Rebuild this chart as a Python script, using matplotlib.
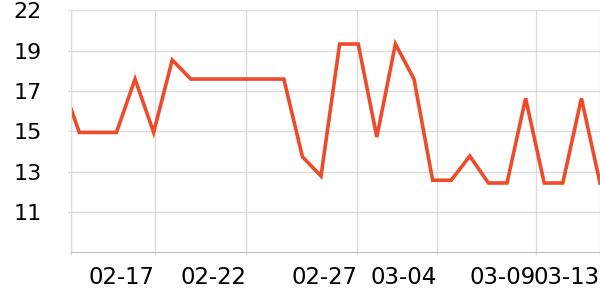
import numpy as np
import matplotlib
matplotlib.use('Agg')
import matplotlib.pyplot as plt

# values, one per point (first one sits left of the visible area)
values = [18.25, 15.34, 15.34, 15.34, 18.25, 15.34, 19.29, 18.25, 18.25, 18.25,
          18.25, 18.25, 18.25, 14.01, 12.96, 20.16, 20.16, 15.09, 20.16, 18.25,
          12.73, 12.73, 14.05, 12.58, 12.58, 17.20, 12.58, 12.58, 17.20, 12.58]
x = np.arange(len(values))

# date labels and where they sit along the point index
tick_pos = [0.54, 5.05, 9.96, 15.94, 20.24, 25.56, 29.0]
tick_labels = ['', '02-17', '02-22', '02-27', '03-04', '03-09', '03-13']

y_ticks = [11.0, 13.2, 15.4, 17.6, 19.8, 22.0]
y_labels = ['11', '13', '15', '17', '19', '22']

grid_c = '#dcdcdc'
line_c = '#ef4a2a'

fig = plt.figure(figsize=(6, 3), dpi=100)
ax = fig.add_axes([70.7 / 600, 1 - 252.3 / 300, 1 - 70.7 / 600, (252.3 - 10.3) / 300])

ax.plot(x, values, color=line_c, lw=2.6, solid_joinstyle='miter')

ax.set_xlim(0.54, 29)
ax.set_ylim(8.8, 22)

ax.set_xticks(tick_pos)
ax.set_xticklabels(tick_labels, ha='right')
ax.set_yticks(y_ticks)
ax.set_yticklabels(y_labels)

ax.grid(True, color=grid_c, lw=1)
ax.set_axisbelow(True)

for s in ['top', 'right']:
    ax.spines[s].set_visible(False)
ax.spines['left'].set_color(grid_c)
ax.spines['bottom'].set_color('#bdbdbd')
ax.spines['bottom'].set_zorder(3)

ax.tick_params(axis='x', length=2, color=grid_c, labelsize=16.4, pad=8)
ax.tick_params(axis='y', length=2, color=grid_c, labelsize=16, pad=19)
for lab in ax.get_yticklabels():
    lab.set_horizontalalignment('right')

fig.savefig('out.png', dpi=100)
